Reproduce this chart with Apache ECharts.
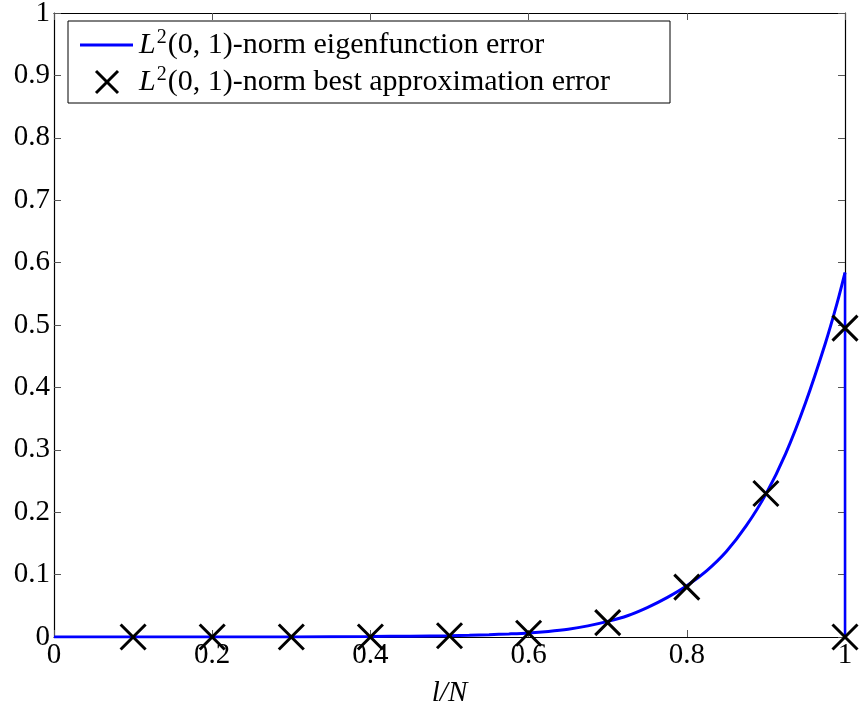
<!DOCTYPE html>
<html><head><meta charset="utf-8">
<script src="https://cdn.jsdelivr.net/npm/echarts@6/dist/echarts.min.js"></script>
<style>html,body{margin:0;padding:0;background:#fff}#c{width:860px;height:711px}</style>
</head><body><div id="c"></div>
<script>
// Eigenfunction error curve (x = l/N, y = error)
const curveX = [0, 0.1, 0.2, 0.3, 0.4, 0.45, 0.5, 0.525, 0.55, 0.575, 0.6, 0.625, 0.65, 0.675, 0.7, 0.725, 0.75, 0.775, 0.8, 0.825, 0.85, 0.875, 0.9, 0.925, 0.95, 0.975, 0.99, 1.0];
const curveY = [0, 0, 0, 0.0002, 0.0008, 0.0013, 0.002, 0.0027, 0.0036, 0.0049, 0.0065, 0.009, 0.0125, 0.0178, 0.025, 0.034, 0.047, 0.063, 0.082, 0.106, 0.137, 0.178, 0.229, 0.294, 0.375, 0.47, 0.535, 0.584];
// Vertical drop of the curve at l/N = 1
const dropX = [1.0, 1.0];
const dropY = [0.584, 0];
// Best approximation error markers
const bestX = [0.1, 0.2, 0.3, 0.4, 0.5, 0.6, 0.7, 0.8, 0.9, 1.0, 1.0];
const bestY = [0, 0, 0, 0, 0.002, 0.006, 0.023, 0.08, 0.23, 0.495, 0];
const xTicks = ['0', '0.2', '0.4', '0.6', '0.8', '1'];
const yTicks = ['0', '0.1', '0.2', '0.3', '0.4', '0.5', '0.6', '0.7', '0.8', '0.9', '1'];
const legendNames = ['(0, 1)-norm eigenfunction error', '(0, 1)-norm best approximation error'];

const FONT = '"Liberation Serif", "DejaVu Serif", serif';
const FS = 29;
const LFS = 30;
const crossPath = 'path://M0 0L10 10M10 0L0 10';

const chart = echarts.init(document.getElementById('c'), null, {renderer: 'canvas'});
const axCommon = {
  min: 0, max: 1,
  axisLine: {show: true, onZero: false, lineStyle: {color: '#000', width: 1.2}},
  axisTick: {show: true, inside: true, length: 7, lineStyle: {color: '#555', width: 1}},
  splitLine: {show: false}
};
const richFor = (txt) => ({
  text: '{i|L}{s|2}{n|' + txt + '}',
  verticalAlign: 'middle',
  rich: {
    i: {fontFamily: FONT, fontSize: LFS, fontStyle: 'italic', fill: '#000', lineHeight: 34, verticalAlign: 'middle'},
    s: {fontFamily: FONT, fontSize: 20, fill: '#000', lineHeight: 20, verticalAlign: 'top', padding: [0, 1, 0, 1]},
    n: {fontFamily: FONT, fontSize: LFS, fill: '#000', lineHeight: 34, verticalAlign: 'middle'}
  }
});
chart.setOption({
  animation: false,
  backgroundColor: '#fff',
  grid: {left: 54, top: 13, right: 15, bottom: 74, containLabel: false, outerBoundsMode: 'none'},
  xAxis: [
    Object.assign({}, axCommon, {type: 'value', position: 'bottom', interval: 0.2,
      axisLabel: {color: '#000', fontFamily: FONT, fontSize: FS, margin: 4,
        formatter: (v) => xTicks[Math.round(v / 0.2)]},
      name: 'l/N', nameLocation: 'middle', nameGap: 42,
      nameTextStyle: {color: '#000', fontFamily: FONT, fontSize: FS, fontStyle: 'italic'}}),
    Object.assign({}, axCommon, {type: 'value', position: 'top', interval: 0.2, axisLabel: {show: false}})
  ],
  yAxis: [
    Object.assign({}, axCommon, {type: 'value', position: 'left', interval: 0.1,
      axisLabel: {color: '#000', fontFamily: FONT, fontSize: FS, margin: 4,
        formatter: (v) => yTicks[Math.round(v / 0.1)]}}),
    Object.assign({}, axCommon, {type: 'value', position: 'right', interval: 0.1, axisLabel: {show: false}})
  ],
  series: [
    {name: 'eig', type: 'line', data: curveX.map((x, i) => [x, curveY[i]]),
      showSymbol: false, symbol: 'none', smooth: 0.3,
      lineStyle: {color: '#0000ff', width: 3}, itemStyle: {color: '#0000ff'}, z: 2},
    {name: 'drop', type: 'line', data: dropX.map((x, i) => [x, dropY[i]]),
      showSymbol: false, symbol: 'none',
      lineStyle: {color: '#0000ff', width: 2.5}, z: 2},
    {name: 'best', type: 'scatter', data: bestX.map((x, i) => [x, bestY[i]]),
      symbol: crossPath, symbolSize: 25,
      itemStyle: {color: 'none', borderColor: '#000', borderWidth: 3, opacity: 1}, z: 3}
  ],
  graphic: [
    {type: 'rect', shape: {x: 68, y: 21, width: 602, height: 82}, style: {fill: '#fff', stroke: '#000', lineWidth: 1}, z: 100},
    {type: 'line', shape: {x1: 80, y1: 45, x2: 133, y2: 45}, style: {stroke: '#0000ff', lineWidth: 3}, z: 101},
    {type: 'line', shape: {x1: 96, y1: 71, x2: 118, y2: 93}, style: {stroke: '#000', lineWidth: 3}, z: 101},
    {type: 'line', shape: {x1: 118, y1: 71, x2: 96, y2: 93}, style: {stroke: '#000', lineWidth: 3}, z: 101},
    {type: 'text', x: 139, y: 45, z: 101, style: richFor(legendNames[0])},
    {type: 'text', x: 139, y: 82, z: 101, style: richFor(legendNames[1])}
  ]
});
</script></body></html>
